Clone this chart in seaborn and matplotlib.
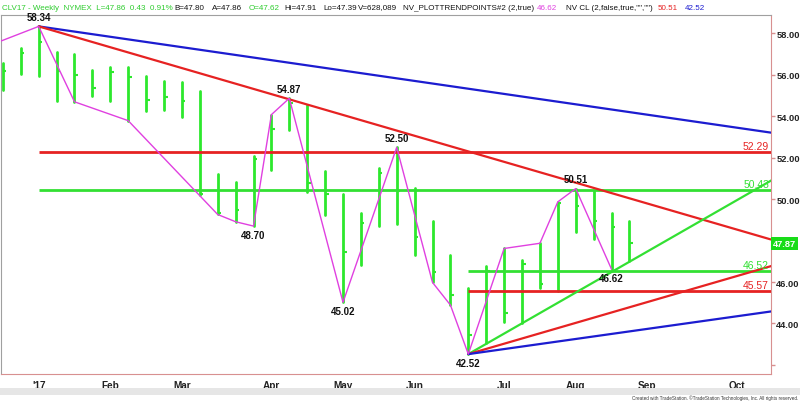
import numpy as np
import pandas as pd
import matplotlib
matplotlib.use("Agg")
import matplotlib.pyplot as plt
import matplotlib.transforms as mtransforms
from matplotlib.patches import Rectangle
import seaborn as sns

sns.set_style("white")
plt.rcParams["font.family"] = ["Liberation Sans", "DejaVu Sans"]

# ===== 数据：CLV17 周线 (周序号 0 = 2017 年 1 月第一周) =====
weeks = list(range(-2, 34))
highs = [56.57, 57.28, 58.34, 57.09, 57.01, 56.25, 56.36, 56.36, 55.96, 55.69,
         55.67, 55.23, 51.21, 50.81, 52.10, 54.08, 54.87, 54.54, 51.37, 50.25,
         49.31, 51.49, 52.50, 50.52, 48.96, 47.32, 45.69, 46.76, 47.62, 47.06,
         47.87, 49.87, 50.51, 50.38, 49.31, 48.93]
lows = [55.27, 56.04, 55.93, 54.72, 54.70, 54.96, 54.75, 53.79, 54.24, 54.30,
        53.98, 50.20, 49.26, 48.91, 48.70, 51.41, 53.35, 50.33, 49.23, 45.02,
        46.82, 48.72, 48.80, 47.30, 45.98, 44.89, 42.52, 43.05, 44.08, 44.00,
        45.69, 45.58, 48.43, 48.07, 46.62, 47.00]
closes = [56.20, 57.04, 57.60, 56.20, 55.99, 55.36, 56.12, 55.88, 54.79, 54.92,
          54.75, 50.25, 49.35, 49.47, 51.94, 53.38, 54.64, 50.76, 50.25, 47.43,
          48.85, 51.26, 50.39, 48.18, 46.49, 45.37, 43.45, 46.55, 44.50, 46.87,
          45.90, 49.80, 49.68, 48.93, 48.64, 47.86]

# 摆动点 (NV_PLOTTRENDPOINTS)
pivot_weeks = [-4, 0, 2, 5, 10, 11, 12, 13, 14, 17, 20, 22, 23, 24, 26, 28, 29, 30, 32]
pivot_prices = [57.00, 58.34, 54.70, 53.79, 49.26, 48.91, 48.70, 54.08, 54.87, 45.02,
                52.50, 45.98, 44.89, 42.52, 47.62, 47.87, 49.87, 50.51, 46.62]

# 标注的摆动点
label_weeks = [0, 14, 20, 30, 12, 17, 24, 32]
label_prices = [58.34, 54.87, 52.50, 50.51, 48.70, 45.02, 42.52, 46.62]
label_above = [True, True, True, True, False, False, False, False]

# 水平支撑/阻力
level_prices = [52.29, 50.43, 46.52, 45.57]
level_start = [0, 0, 24, 24]
level_colors = ["#e62222", "#33e033", "#33e033", "#e62222"]

# 趋势线
trend_start_week = [0, 0, 24, 24, 24]
trend_start_price = [58.34, 58.34, 42.52, 42.52, 42.52]
trend_end_week = [41, 41, 41, 41, 41]
trend_end_price = [53.20, 48.03, 50.94, 46.79, 44.59]
trend_colors = ["#1c1cd0", "#e62222", "#33e033", "#e62222", "#1c1cd0"]

month_ticks = [0, 4, 8, 13, 17, 21, 26, 30, 34, 39]
month_labels = ["'17", "Feb", "Mar", "Apr", "May", "Jun", "Jul", "Aug", "Sep", "Oct"]
price_ticks = [42, 44, 46, 48, 50, 52, 54, 56, 58]

BAR_GREEN = "#2de82d"
MAGENTA = "#e040e0"
PINK = "#d89090"

fig = plt.figure(figsize=(8, 4.02), dpi=100)
ax = fig.add_axes([1 / 800, 27 / 402, 770 / 800, 359 / 402])

# ===== 周线柱 =====
bar_df = pd.DataFrame({"week": weeks + weeks, "price": lows + highs})
sns.lineplot(data=bar_df, x="week", y="price", units="week", estimator=None,
             color=BAR_GREEN, lw=2, ax=ax, legend=False, zorder=2)
ax.hlines(closes, weeks, np.array(weeks) + 0.2, color=BAR_GREEN, lw=1.5, zorder=2)

# ===== 水平线 =====
for p, s, c in zip(level_prices, level_start, level_colors):
    ax.hlines(p, s, 42, color=c, lw=2, zorder=3)
    ax.text(40.8, p + 0.05, f"{p:.2f}", color=c, fontsize=7.5, ha="right", va="bottom", zorder=5)

# ===== 趋势线 =====
for sw, sp, ew, ep, c in zip(trend_start_week, trend_start_price, trend_end_week,
                             trend_end_price, trend_colors):
    sns.lineplot(x=[sw, ew], y=[sp, ep], color=c, lw=1.6, ax=ax, zorder=3)

# ===== 摆动线 =====
sns.lineplot(x=pivot_weeks, y=pivot_prices, sort=False, estimator=None,
             color=MAGENTA, lw=1, ax=ax, zorder=4)

for w, p, above in zip(label_weeks, label_prices, label_above):
    ax.annotate(f"{p:.2f}", (w, p), xytext=(0, 3 if above else -3), textcoords="offset points",
                ha="center", va="bottom" if above else "top", fontsize=7,
                fontweight="bold", color="#111111", zorder=6)

ax.set_xlim(-2.106, 40.91)
ax.set_ylim(41.56, 58.89)
ax.set_xlabel("")
ax.set_ylabel("")

ax.yaxis.tick_right()
ax.set_yticks(price_ticks)
ax.set_yticklabels(["" if v == 42 else f"{v:.2f}" for v in price_ticks])
ax.set_xticks(month_ticks)
ax.set_xticklabels(month_labels)
ax.tick_params(axis="both", direction="out", length=3, width=1, color=PINK,
               labelsize=7.2, labelcolor="#222222", pad=1)
ax.tick_params(axis="y", labelsize=6.7, pad=0.8)
for lab in ax.get_xticklabels() + ax.get_yticklabels():
    lab.set_fontweight("bold")

for side in ["left", "top"]:
    ax.spines[side].set_color("#a0a0a0")
for side in ["right", "bottom"]:
    ax.spines[side].set_color(PINK)

# 最新价格框
trans = mtransforms.blended_transform_factory(ax.transAxes, ax.transData)
ax.text(1.003, closes[-1], "47.87", transform=trans, ha="left", va="center",
        fontsize=6.7, fontweight="bold", color="white", clip_on=False, zorder=10,
        bbox=dict(boxstyle="square,pad=0.2", fc="#18dc18", ec="none"))

# ===== 标题行 =====
header = [
    (2, "CLV17 - Weekly  NYMEX  L=47.86  0.43  0.91%", "#2ecc2e"),
    (174, "B=47.80", "#111111"),
    (212, "A=47.86", "#111111"),
    (249, "O=47.62", "#2ecc2e"),
    (284, "Hi=47.91", "#111111"),
    (323, "Lo=47.39", "#111111"),
    (358, "V=628,089", "#111111"),
    (403, "NV_PLOTTRENDPOINTS#2 (2,true)", "#111111"),
    (537, "46.62", "#e040e0"),
    (566, 'NV CL (2,false,true,"","")', "#111111"),
    (658, "50.51", "#e62222"),
    (685, "42.52", "#1c1cd0"),
]
for x, t, c in header:
    fig.text(x / 800, 1 - 8 / 402, t, color=c, fontsize=5.8, ha="left", va="center")

# 底部滚动条和版权
fig.patches.append(Rectangle((0, 6 / 402), 1, 7 / 402, transform=fig.transFigure,
                             fc="#e6e6e6", ec="none"))
fig.text(798 / 800, 0.5 / 402, "Created with TradeStation. \u00a9TradeStation Technologies, Inc. All rights reserved.",
         fontsize=3.3, color="#333333", ha="right", va="bottom")

plt.savefig("out.png", dpi=100)
plt.close()
print("Saved: out.png")
